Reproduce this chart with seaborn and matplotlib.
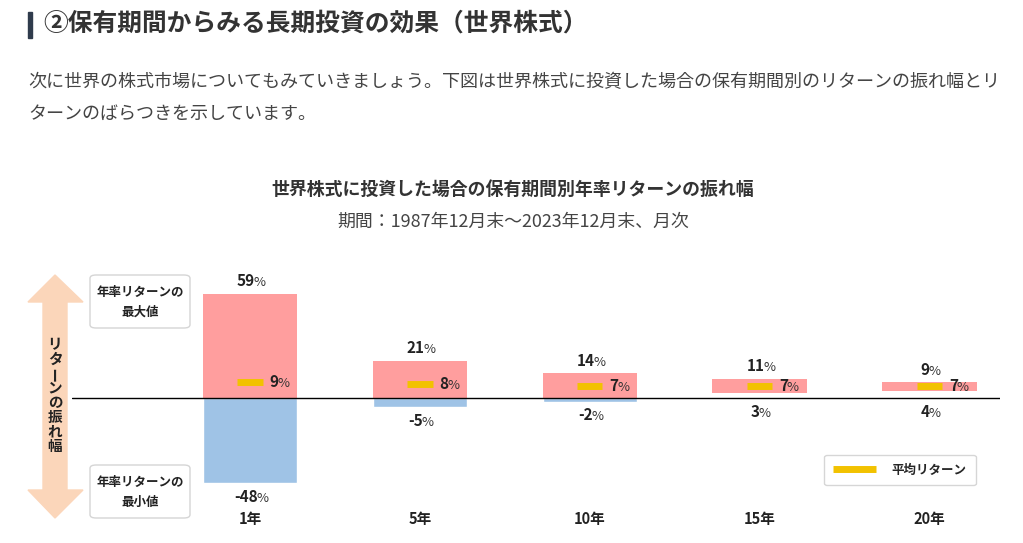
import matplotlib.pyplot as plt
import seaborn as sns
from matplotlib.lines import Line2D
from matplotlib.patches import FancyBboxPatch, Polygon, Rectangle


PERIODS = ["1年", "5年", "10年", "15年", "20年"]
MAX_RETURN = [59, 21, 14, 11, 9]
MIN_RETURN = [-48, -5, -2, 3, 4]
AVG_RETURN = [9, 8, 7, 7, 7]

HEADING = "②保有期間からみる長期投資の効果（世界株式）"
BODY_LINES = [
    "次に世界の株式市場についてもみていきましょう。下図は世界株式に投資した場合の保有期間別のリターンの振れ幅とリ",
    "ターンのばらつきを示しています。",
]
CHART_TITLE = "世界株式に投資した場合の保有期間別年率リターンの振れ幅"
CHART_SUBTITLE = "期間：1987年12月末～2023年12月末、月次"
AXIS_LABEL = "リターンの振れ幅"
BOX_MAX = ["年率リターンの", "最大値"]
BOX_MIN = ["年率リターンの", "最小値"]
LEGEND_LABEL = "平均リターン"

PINK = "#ff9e9e"
BLUE = "#9fc3e6"
YELLOW = "#f2c200"
PEACH = "#fbd6ba"
TEXT = "#222222"

W, H = 1023, 543


def fx(px):
    return px / W


def fy(py):
    return 1 - py / H


def pct_label(ax, x, y, value, dx, dy, ha="center", size=11):
    t = ax.annotate(str(value), xy=(x, y), xytext=(dx, dy), textcoords="offset points",
                    ha=ha, va="center", fontsize=size, color=TEXT, fontweight="bold")
    ax.annotate("%", xy=(1, 0), xycoords=t, xytext=(-0.8, 0), textcoords="offset points",
                ha="left", va="bottom", fontsize=size * 0.86, color="#333333")


sns.set_theme(style="white")
plt.rcParams["font.family"] = ["Noto Sans CJK JP", "DejaVu Sans"]

fig = plt.figure(figsize=(W / 100, H / 100), dpi=100)
fig.patch.set_facecolor("white")

# page heading + paragraph
fig.patches.append(Rectangle((fx(28), fy(38)), fx(4), 26 / H, transform=fig.transFigure,
                             color="#2f3b4c", zorder=2))
fig.text(fx(43), fy(24), HEADING, fontsize=17.8, fontweight="bold", color="#333333", va="center")
for i, line in enumerate(BODY_LINES):
    fig.text(fx(28), fy(82 + 32 * i), line, fontsize=13.0, color="#444444", va="center")

fig.text(0.5015, fy(190), CHART_TITLE, fontsize=12.9, fontweight="bold", color="#333333",
         ha="center", va="center")
fig.text(0.5015, fy(222), CHART_SUBTITLE, fontsize=12.9, color="#444444", ha="center", va="center")

# chart
ax = fig.add_axes([fx(72), fy(510), fx(1000) - fx(72), (510 - 260) / H])
x = list(range(len(PERIODS)))
width = 0.555

neg_height = [min(v, 0) for v in MIN_RETURN]
sns.barplot(x=PERIODS, y=neg_height, color=BLUE, width=width, saturation=1, ax=ax)
pos_base = [max(v, 0) for v in MIN_RETURN]
pos_height = [hi - lo for hi, lo in zip(MAX_RETURN, pos_base)]
ax.bar(x, pos_height, bottom=pos_base, width=width, color=PINK, linewidth=0)

ax.axhline(0, color="black", linewidth=1, zorder=3)
ax.hlines(AVG_RETURN, [i - 0.075 for i in x], [i + 0.075 for i in x], color=YELLOW,
          linewidth=5, capstyle="butt", zorder=4)

for i in x:
    pct_label(ax, i, MAX_RETURN[i], MAX_RETURN[i], -3, 9)
    pct_label(ax, i, min(MIN_RETURN[i], 0), MIN_RETURN[i], -3, -10)
    pct_label(ax, i, AVG_RETURN[i], AVG_RETURN[i], 14, 0, ha="left")

ax.set_xlim(-1.047, 4.415)
ax.set_ylim(-63.3, 78)
ax.set_xticks(x)
ax.set_xticklabels(PERIODS, fontsize=10.5, fontweight="bold", color=TEXT)
ax.tick_params(axis="x", length=0, pad=1)
ax.set_yticks([])
ax.set_xlabel("")
ax.set_ylabel("")
sns.despine(ax=ax, left=True, bottom=True)

handle = Line2D([], [], color=YELLOW, linewidth=5, solid_capstyle="butt")
leg = ax.legend([handle], [LEGEND_LABEL], loc="center",
                bbox_to_anchor=(fx(900), fy(470)), bbox_transform=fig.transFigure,
                frameon=True, fancybox=True, handlelength=3.4, handletextpad=1.3,
                borderpad=0.7, prop={"size": 9, "weight": "bold"})
leg.get_frame().set_edgecolor("#cccccc")
leg.get_frame().set_linewidth(1)

# left arrow
arrow = [(55, 275), (83, 302), (67, 302), (67, 490), (83, 490), (55, 518), (28, 490),
         (43, 490), (43, 302), (28, 302)]
fig.patches.append(Polygon([(fx(a), fy(b)) for a, b in arrow], closed=True,
                           transform=fig.transFigure, color=PEACH, zorder=0))
for k, ch in enumerate(AXIS_LABEL):
    fig.text(fx(55), fy(344 + 14.6 * k), ch, fontsize=10.5, fontweight="bold", color=TEXT,
             ha="center", va="center", rotation=90 if ch == "ー" else 0)

for top, lines in [(275, BOX_MAX), (465, BOX_MIN)]:
    fig.patches.append(FancyBboxPatch((fx(90), fy(top + 53)), fx(100), 53 / H,
                                      boxstyle="round,pad=0,rounding_size=0.006",
                                      transform=fig.transFigure, facecolor="white",
                                      edgecolor="#d5d5d5", linewidth=1, zorder=1))
    for j, line in enumerate(lines):
        fig.text(fx(140), fy(top + 17 + 20 * j), line, fontsize=9, fontweight="bold",
                 color=TEXT, ha="center", va="center")

fig.savefig("out.png", dpi=100)
